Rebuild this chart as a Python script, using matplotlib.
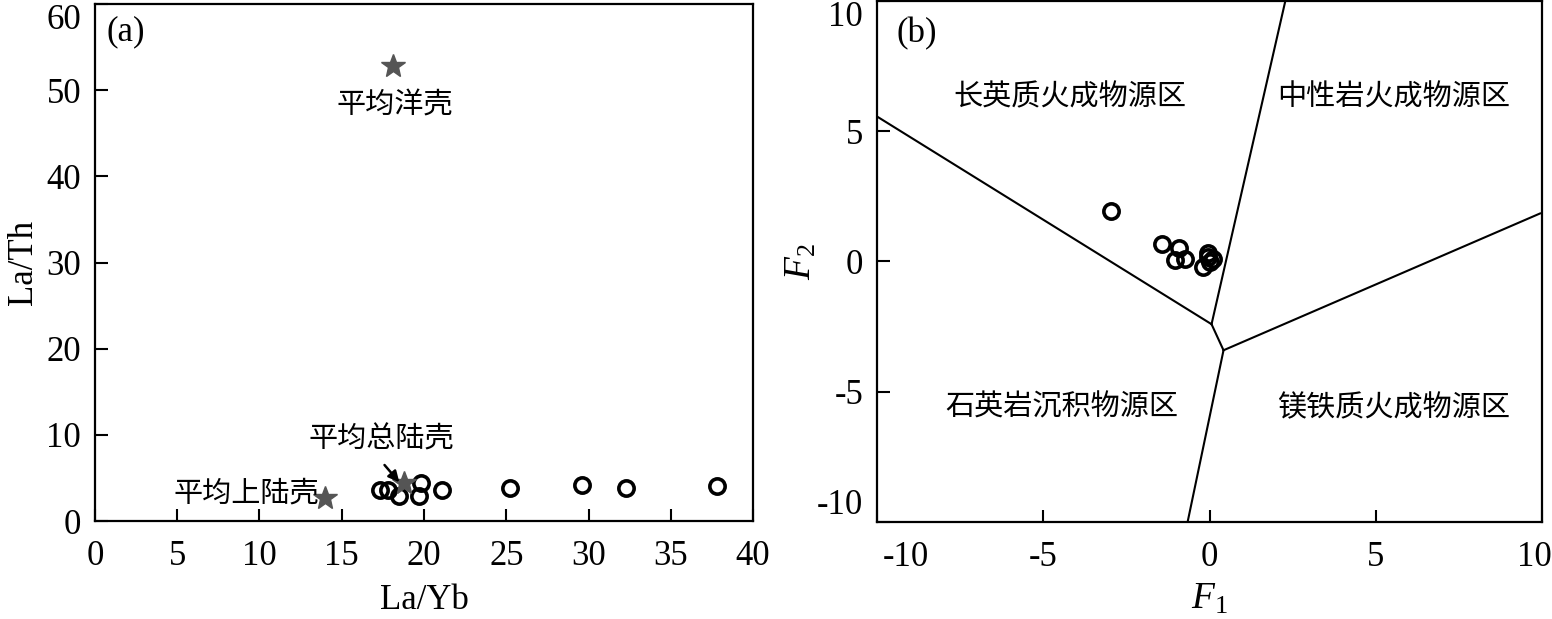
import matplotlib
matplotlib.use("Agg")
import matplotlib.pyplot as plt
from matplotlib.transforms import ScaledTranslation

plt.rcParams['font.family'] = ['Liberation Serif', 'Noto Sans CJK SC']
plt.rcParams['mathtext.fontset'] = 'custom'
plt.rcParams['mathtext.it'] = 'Liberation Serif:italic'
plt.rcParams['mathtext.rm'] = 'Liberation Serif'
plt.rcParams['axes.unicode_minus'] = False

# (a) La/Yb - La/Th
la_yb = [17.3, 17.8, 18.5, 19.8, 19.7, 21.1, 25.2, 29.6, 32.3, 37.8]
la_th = [3.6, 3.6, 2.9, 4.4, 2.9, 3.6, 3.8, 4.2, 3.8, 4.1]
ref_names = ['平均洋壳', '平均上陆壳', '平均总陆壳']
ref_x = [18.1, 14.0, 18.8]
ref_y = [52.8, 2.7, 4.4]

# (b) discriminant function F1 - F2
f1 = [-2.96, -1.44, -0.93, -1.05, -0.75, -0.06, 0.09, -0.21, 0.0, -0.06]
f2 = [1.92, 0.65, 0.50, 0.04, 0.08, 0.34, 0.11, -0.23, -0.04, 0.15]
# field boundaries
j1 = (0.06, -2.41)
j2 = (0.42, -3.41)
bound_lines = [
    [(-10.0, 5.56), j1],
    [j1, (2.28, 10.0)],
    [j1, j2],
    [j2, (9.94, 1.84)],
    [j2, (-0.66, -10.0)],
]
field_names = ['长英质火成物源区', '中性岩火成物源区', '石英岩沉积物源区', '镁铁质火成物源区']
field_x = [-4.2, 5.54, -4.43, 5.54]
field_y = [6.28, 6.28, -5.63, -5.63]

fig = plt.figure(figsize=(15.52, 6.19), dpi=100)
ax1 = fig.add_axes([0.0612, 0.1583, 0.4240, 0.8352])
ax2 = fig.add_axes([0.5651, 0.1567, 0.4285, 0.8420])

star_col = '#555555'
fs = 25
cjk = 21
for ax in (ax1, ax2):
    for s in ax.spines.values():
        s.set_linewidth(1.6)
    ax.tick_params(direction='in', length=9, width=1.5, labelsize=fs,
                   top=False, right=False)
    ax.tick_params(axis='x', pad=14)
    ax.tick_params(axis='y', pad=10)

# panel (a)
ax1.plot(la_yb, la_th, 'o', ms=11, mfc='none', mec='black', mew=2.6)
ax1.plot(ref_x, ref_y, '*', ms=18, color=star_col, mec=star_col)
ax1.set_xlim(0, 40)
ax1.set_ylim(0, 60)
ax1.set_xticks(range(0, 41, 5))
ax1.set_yticks(range(0, 61, 10))
ax1.set_xlabel('La/Yb', fontsize=fs, va='center')
ax1.xaxis.set_label_coords(0.5, -0.153)
ax1.set_ylabel('La/Th', fontsize=fs, va='center', ha='center')
ax1.yaxis.set_label_coords(-0.108, 0.5)
ax1.text(0.018, 0.93, '(a)', transform=ax1.transAxes, fontsize=fs)
ax1.text(ref_x[0] + 0.15, ref_y[0] - 4.6, ref_names[0], fontsize=cjk,
         ha='center', va='center')
ax1.text(ref_x[1] - 0.4, ref_y[1] + 0.4, ref_names[1], fontsize=cjk,
         ha='right', va='center')
ax1.text(17.4, 9.4, ref_names[2], fontsize=cjk, ha='center', va='center')
ax1.annotate('', xy=(18.5, 4.5), xytext=(17.6, 6.5),
             arrowprops=dict(arrowstyle='-|>', color='black', lw=1.8,
                             shrinkA=0, shrinkB=0, mutation_scale=16))
yl = ax1.get_yticklabels()
yl[-1].set_va('top')

# panel (b)
for seg in bound_lines:
    ax2.plot([seg[0][0], seg[1][0]], [seg[0][1], seg[1][1]], color='black', lw=1.5)
ax2.plot(f1, f2, 'o', ms=11, mfc='none', mec='black', mew=2.6)
for name, x, y in zip(field_names, field_x, field_y):
    ax2.text(x, y, name, fontsize=cjk, ha='center', va='center')
ax2.set_xlim(-10, 10)
ax2.set_ylim(-10, 10)
ax2.set_xticks([-10, -5, 0, 5, 10])
ax2.set_yticks([-10, -5, 0, 5, 10])
ax2.set_xlabel('$F$$_{\\mathrm{1}}$', fontsize=27, va='center')
ax2.xaxis.set_label_coords(0.5, -0.149)
ax2.set_ylabel('$F$$_{\\mathrm{2}}$', fontsize=27, va='center', ha='center')
ax2.yaxis.set_label_coords(-0.114, 0.5)
ax2.text(0.03, 0.92, '(b)', transform=ax2.transAxes, fontsize=fs)
xl = ax2.get_xticklabels()
xl[0].set_ha('left')
xl[0].set_transform(xl[0].get_transform() + ScaledTranslation(4 / 72, 0, fig.dpi_scale_trans))
xl[-1].set_ha('right')
xl[-1].set_transform(xl[-1].get_transform() + ScaledTranslation(7 / 72, 0, fig.dpi_scale_trans))
yl = ax2.get_yticklabels()
yl[0].set_va('bottom')
yl[-1].set_va('top')

fig.savefig('out.png', dpi=100)
